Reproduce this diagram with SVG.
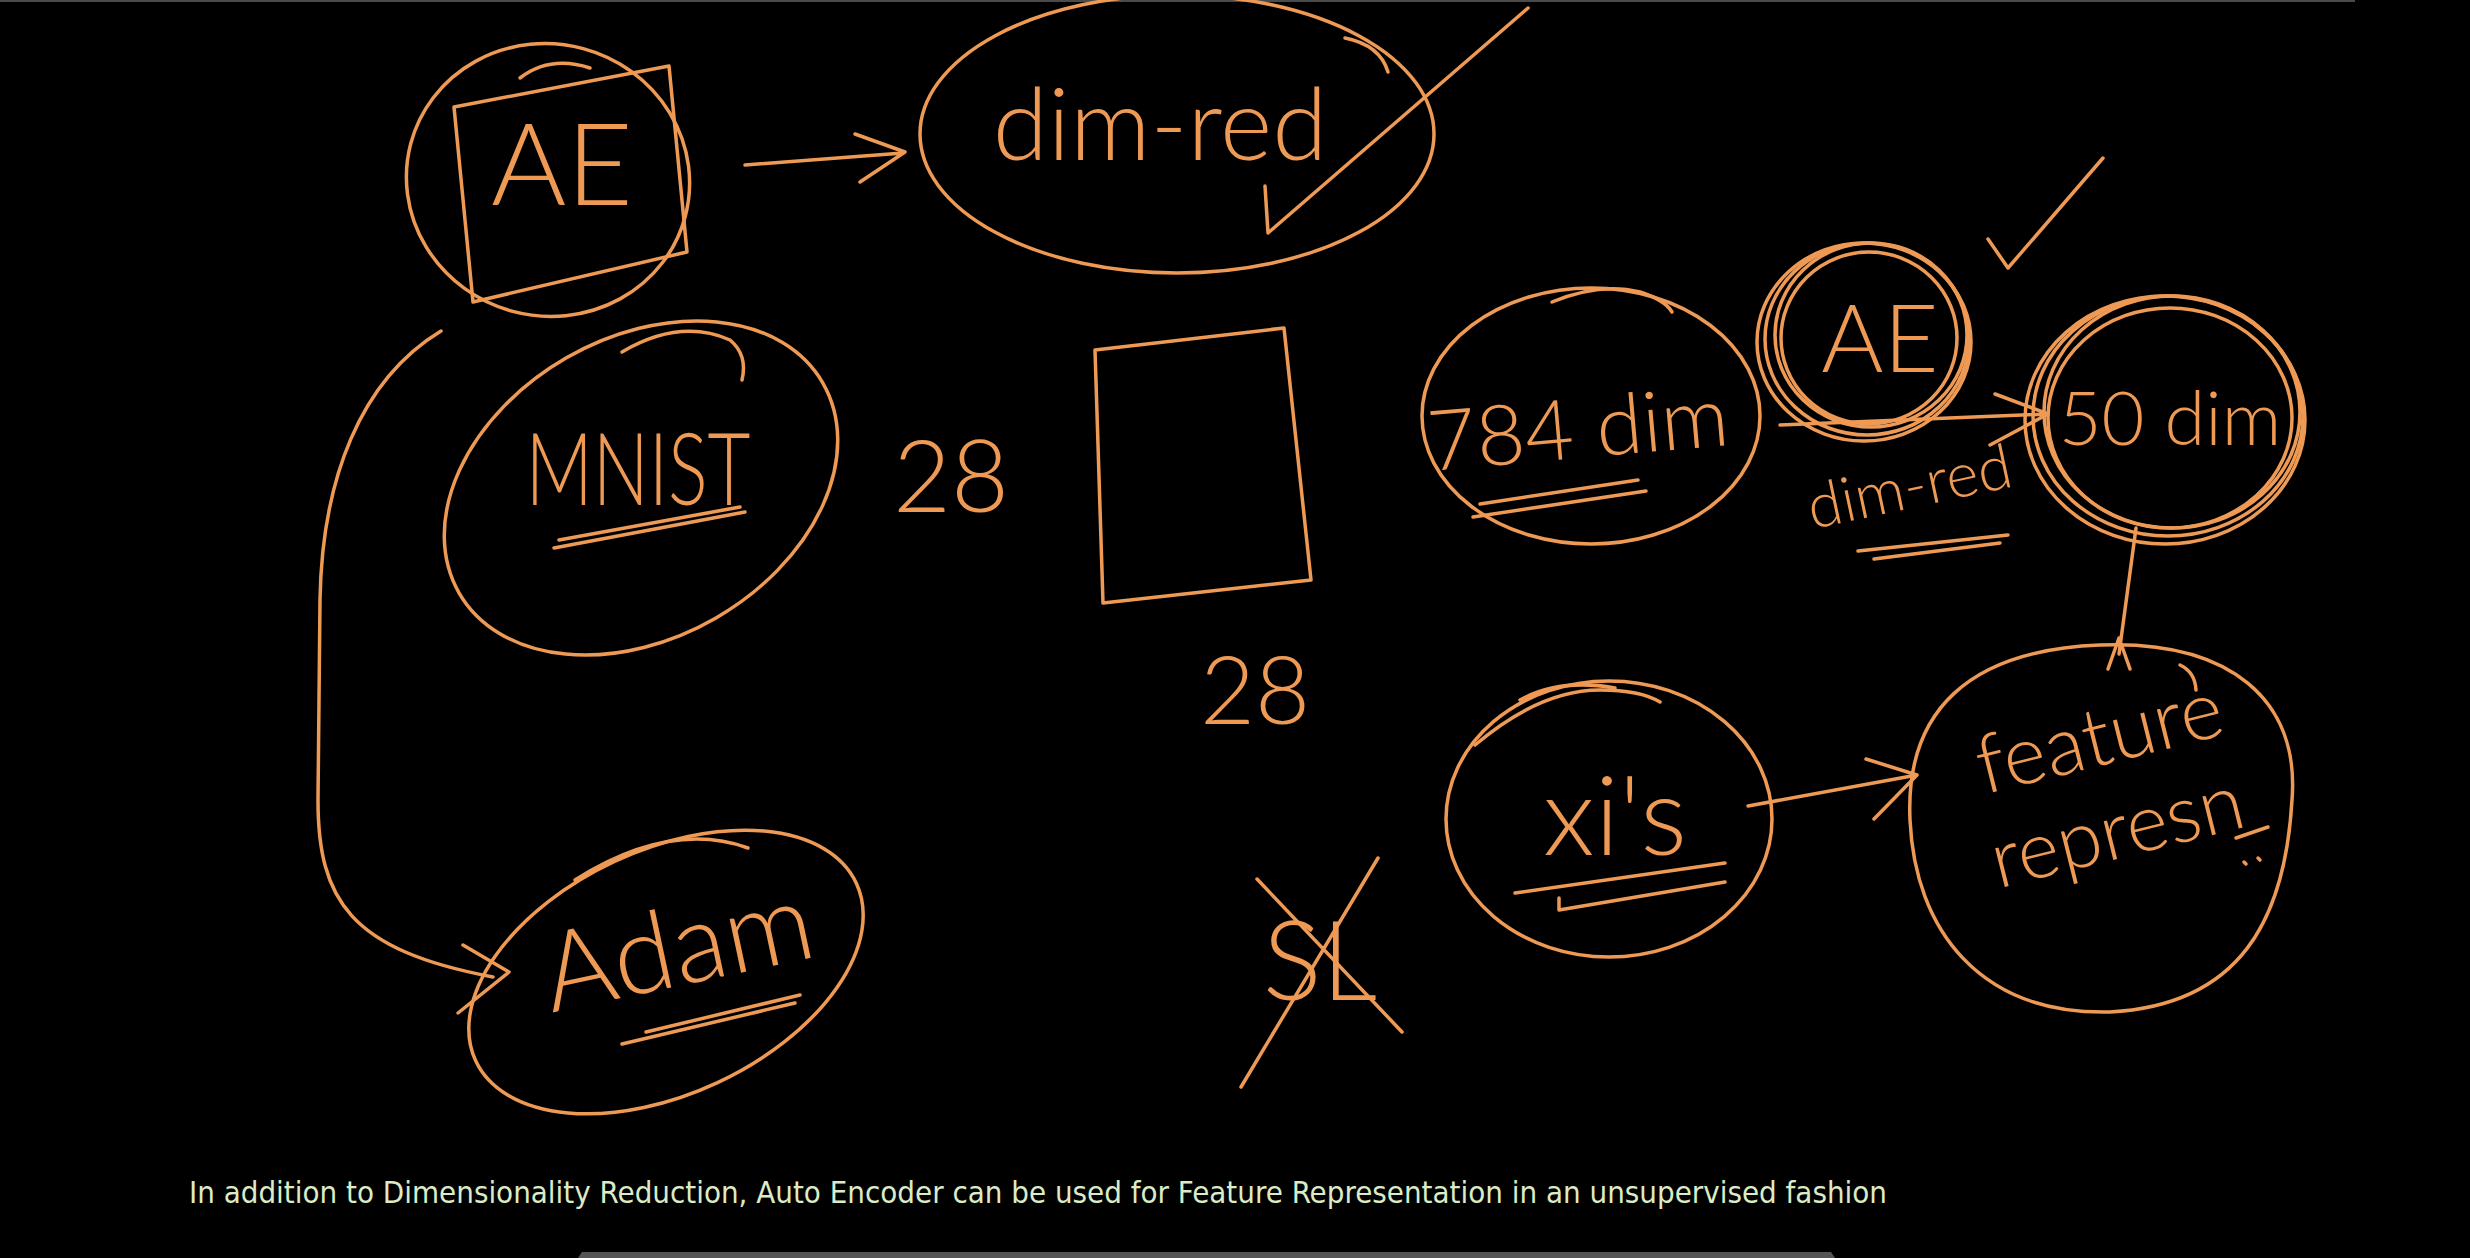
<svg xmlns="http://www.w3.org/2000/svg" width="2470" height="1258" viewBox="0 0 2470 1258">
<style>
.s{fill:none;stroke:#ee9a55;stroke-width:3.5;stroke-linecap:round;stroke-linejoin:round}
.h{fill:#ee9a55;font-family:Lato,"Open Sans","Liberation Sans",sans-serif;font-weight:300}
.cap{fill:#dcebc6;font-family:"DejaVu Sans",sans-serif;font-stretch:condensed;font-size:31px}
</style>
<rect x="0" y="0" width="2470" height="1258" fill="#000"/>
<line x1="0" y1="1" x2="2355" y2="1" stroke="#4a4a4a" stroke-width="2"/>
<path d="M578,1258 L582,1252 L1831,1252 L1835,1258 Z" fill="#555"/>

<g id="ae-top">
<ellipse class="s" cx="548" cy="180" rx="142" ry="136" transform="rotate(15 548 180)"/>
<path class="s" d="M454,107 L669,66 L687,252 L473,302 Z"/>
<path class="s" d="M520,78 Q550,55 590,68"/>
<text class="h" x="562" y="205" font-size="115" text-anchor="middle">AE</text>
</g>

<g id="dim-red-top">
<ellipse class="s" cx="1177" cy="134" rx="257" ry="139"/>
<path class="s" d="M1345,38 Q1380,45 1388,72"/>
<text class="h" x="1160" y="160" font-size="100" text-anchor="middle">dim-red</text>
<path class="s" d="M1265,186 L1268,233 L1528,8"/>
</g>

<g id="mnist">
<ellipse class="s" cx="641" cy="488" rx="210" ry="150" transform="rotate(-30 641 488)"/>
<path class="s" d="M622,352 Q680,318 730,340 Q748,355 742,380"/>
<text class="h" x="638" y="505" font-size="100" text-anchor="middle" textLength="225" lengthAdjust="spacingAndGlyphs">MNIST</text>
<path class="s" d="M554,548 L745,512 M559,540 L740,507"/>
</g>

<g id="grid">
<text class="h" x="893" y="512" font-size="100">28</text>
<path class="s" d="M1095,350 L1284,328 L1311,580 L1103,603 Z"/>
<text class="h" x="1200" y="724" font-size="95">28</text>
</g>

<g id="adam">
<ellipse class="s" cx="666" cy="972" rx="210" ry="122" transform="rotate(-25 666 972)"/>
<path class="s" d="M575,880 Q670,820 748,848"/>
<text class="h" x="680" y="985" font-size="110" text-anchor="middle" transform="rotate(-12 680 960)">Adam</text>
<path class="s" d="M622,1044 L795,1003 M646,1032 L800,995"/>
</g>

<g id="sl-crossed">
<text class="h" x="1320" y="1000" font-size="110" text-anchor="middle">SL</text>
<path class="s" d="M1257,879 L1402,1032 M1378,858 L1241,1087"/>
</g>

<g id="dim784">
<ellipse class="s" cx="1591" cy="416" rx="169" ry="128"/>
<path class="s" d="M1552,302 Q1600,282 1640,292 Q1665,300 1672,312"/>
<text class="h" x="1578" y="458" font-size="84" text-anchor="middle" transform="rotate(-5 1578 430)">784 dim</text>
<path class="s" d="M1480,504 L1638,480 M1473,517 L1646,491"/>
</g>

<g id="ae-right">
<ellipse class="s" cx="1867" cy="339" rx="102" ry="96"/>
<ellipse class="s" cx="1871" cy="335" rx="96" ry="92"/>
<ellipse class="s" cx="1864" cy="342" rx="107" ry="99"/>
<ellipse class="s" cx="1869" cy="338" rx="88" ry="86"/>
<text class="h" x="1880" y="372" font-size="95" text-anchor="middle">AE</text>
<text class="h" x="1910" y="508" font-size="62" text-anchor="middle" transform="rotate(-12 1910 490)">dim-red</text>
<path class="s" d="M1858,551 L2008,535 M1874,559 L2000,543"/>
</g>

<g id="dim50">
<ellipse class="s" cx="2168" cy="416" rx="135" ry="120"/>
<ellipse class="s" cx="2172" cy="412" rx="128" ry="116"/>
<ellipse class="s" cx="2165" cy="420" rx="140" ry="124"/>
<ellipse class="s" cx="2170" cy="418" rx="122" ry="110"/>
<text class="h" x="2170" y="445" font-size="74" text-anchor="middle">50 dim</text>
<path class="s" d="M1988,239 L2008,268 L2103,158"/>
</g>

<g id="xis">
<ellipse class="s" cx="1609" cy="819" rx="163" ry="138"/>
<path class="s" d="M1475,745 Q1540,690 1600,690 Q1640,690 1660,702"/>
<path class="s" d="M1520,700 Q1560,678 1615,688"/>
<text class="h" x="1615" y="855" font-size="110" text-anchor="middle">xi's</text>
<path class="s" d="M1515,893 L1725,863 M1559,910 L1725,882 M1559,898 L1559,910"/>
</g>

<g id="feature">
<path class="s" d="M2100,645 C2230,640 2300,700 2292,800 C2285,920 2240,1005 2110,1012 C1980,1015 1915,930 1910,820 C1905,710 1970,650 2100,645 Z"/>
<path class="s" d="M2180,665 Q2195,672 2196,690"/>
<text class="h" x="2100" y="765" font-size="82" text-anchor="middle" transform="rotate(-14 2100 740)">feature</text>
<text class="h" x="2118" y="858" font-size="80" text-anchor="middle" transform="rotate(-14 2118 835)">represn</text>
<path class="s" d="M2236,838 L2268,827 M2244,862 L2246,864 M2258,858 L2260,860"/>
</g>

<g id="connectors">
<path class="s" d="M745,165 L903,153 M855,134 L905,152 L860,182"/>
<path class="s" d="M441,331 C360,380 322,480 320,600 L318,800 C318,900 350,950 493,977 M463,945 L509,972 L458,1013"/>
<path class="s" d="M1780,425 L2048,414 M1995,394 L2048,414 L1990,445"/>
<path class="s" d="M2136,528 L2119,654 M2108,669 L2119,638 L2130,669"/>
<path class="s" d="M1748,806 L1917,775 M1866,759 L1917,775 L1874,819"/>
</g>

<text class="cap" x="189" y="1203" textLength="1698" lengthAdjust="spacingAndGlyphs">In addition to Dimensionality Reduction, Auto Encoder can be used for Feature Representation in an unsupervised fashion</text>
</svg>
